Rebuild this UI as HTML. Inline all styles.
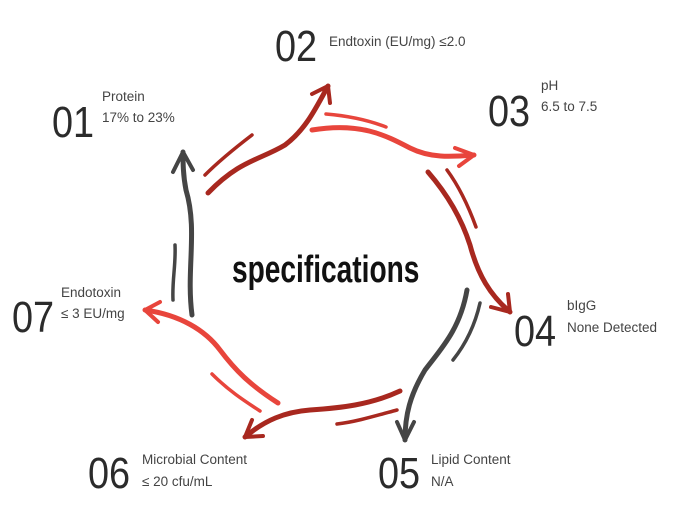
<!DOCTYPE html>
<html><head><meta charset="utf-8"><style>
html,body{margin:0;padding:0;background:#fff;width:700px;height:524px;overflow:hidden}
svg{display:block}
.n{font-family:"Liberation Sans Narrow","Liberation Sans",sans-serif;font-size:44px;fill:#2b2b2b}
.t{font-family:"Liberation Sans",sans-serif;font-size:13.5px;fill:#444}
</style></head><body>
<svg width="700" height="524" viewBox="0 0 700 524">
<g fill="none" stroke-linecap="round" stroke-linejoin="round" stroke-width="5">
<path d="M192 315 C186 270 198 230 186 190 C183 175 183 162 183 152" stroke="#454545"/>
<path d="M173 300 C172 280 176 265 175 245" stroke="#454545" stroke-width="3.5"/>
<path d="M173 172 L183 152 L193 170" stroke="#454545" stroke-width="4"/>
<path d="M208 193 C240 160 260 160 285 145 C305 130 315 110 328 86" stroke="#a8281f"/>
<path d="M205 175 C220 160 235 148 252 135" stroke="#a8281f" stroke-width="3.5"/>
<path d="M312 94 L328 86 L330 103" stroke="#a8281f" stroke-width="4"/>
<path d="M312 130 C360 122 385 135 410 148 C430 158 450 157 474 155" stroke="#e8453c"/>
<path d="M326 114 C350 116 368 120 386 127" stroke="#e8453c" stroke-width="3.5"/>
<path d="M455 148 L474 155 L459 166" stroke="#e8453c" stroke-width="4"/>
<path d="M428 172 C448 195 462 220 470 245 C478 275 490 295 510 312" stroke="#a8281f"/>
<path d="M447 170 C458 185 468 205 476 227" stroke="#a8281f" stroke-width="3.5"/>
<path d="M491 307 L510 312 L508 294" stroke="#a8281f" stroke-width="4"/>
<path d="M467 290 C460 330 440 350 425 370 C410 395 405 415 405 440" stroke="#454545"/>
<path d="M480 303 C475 325 465 345 453 360" stroke="#454545" stroke-width="3.5"/>
<path d="M397 422 L405 440 L414 422" stroke="#454545" stroke-width="4"/>
<path d="M400 391 C370 405 340 408 310 410 C285 412 265 420 245 437" stroke="#a8281f"/>
<path d="M397 410 C375 416 355 422 337 424" stroke="#a8281f" stroke-width="3.5"/>
<path d="M252 420 L245 437 L263 436" stroke="#a8281f" stroke-width="4"/>
<path d="M278 403 C250 385 235 370 220 350 C205 330 180 315 145 310" stroke="#e8453c"/>
<path d="M212 374 C228 390 243 400 260 411" stroke="#e8453c" stroke-width="3.5"/>
<path d="M160 302 L145 310 L158 322" stroke="#e8453c" stroke-width="4"/>
</g>
<g class="n">
<text x="0" y="0" transform="translate(275,61) scale(0.86,1)">02</text>
<text x="0" y="0" transform="translate(52,137) scale(0.86,1)">01</text>
<text x="0" y="0" transform="translate(488,126) scale(0.86,1)">03</text>
<text x="0" y="0" transform="translate(514,346) scale(0.86,1)">04</text>
<text x="0" y="0" transform="translate(378,488) scale(0.86,1)">05</text>
<text x="0" y="0" transform="translate(88,488) scale(0.86,1)">06</text>
<text x="0" y="0" transform="translate(12,332) scale(0.86,1)">07</text>
</g>
<text class="t" x="329" y="46">Endtoxin (EU/mg) ≤2.0</text>
<text class="t" x="102" y="101">Protein</text>
<text class="t" x="102" y="122">17% to 23%</text>
<text class="t" x="541" y="90">pH</text>
<text class="t" x="541" y="111">6.5 to 7.5</text>
<text class="t" x="567" y="310">bIgG</text>
<text class="t" x="567" y="332">None Detected</text>
<text class="t" x="431" y="464">Lipid Content</text>
<text class="t" x="431" y="486">N/A</text>
<text class="t" x="142" y="464">Microbial Content</text>
<text class="t" x="142" y="486">≤ 20 cfu/mL</text>
<text class="t" x="61" y="297">Endotoxin</text>
<text class="t" x="61" y="318">≤ 3 EU/mg</text>
<text x="0" y="0" transform="translate(232,282) scale(0.74,1)" font-family="Liberation Sans Narrow, Liberation Sans, sans-serif" font-weight="bold" font-size="38" fill="#111">specifications</text>
</svg>
</body></html>
